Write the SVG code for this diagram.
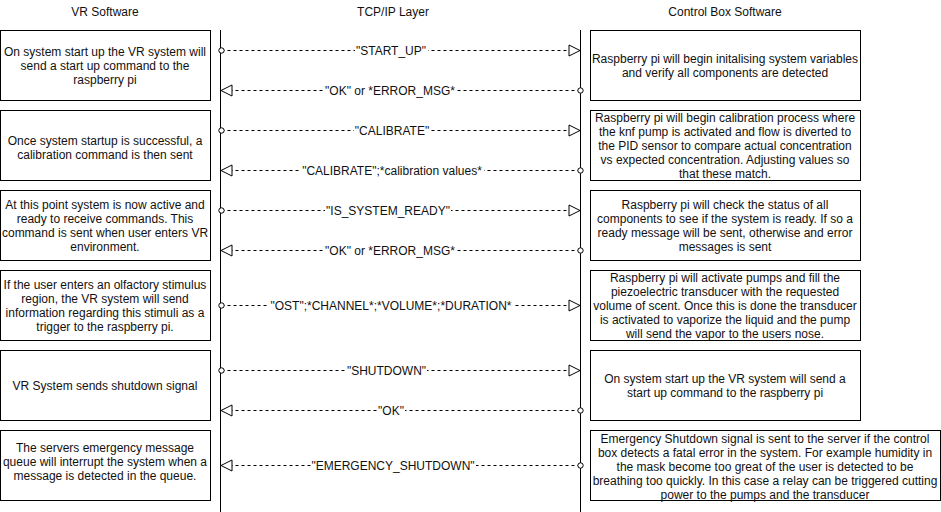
<svg xmlns="http://www.w3.org/2000/svg" width="941" height="512" viewBox="0 0 941 512">
<style>
text{font-family:"Liberation Sans",Arial,Helvetica,sans-serif;font-size:12px;fill:#111;text-anchor:middle}
.box{fill:#fff;stroke:#000;stroke-width:1}
.life{stroke:#000;stroke-width:1;fill:none}
.msg{stroke:#000;stroke-width:1;fill:none;stroke-dasharray:3 3}
.req{marker-start:url(#oval);marker-end:url(#tri)}
.lbg{fill:#fff}
</style>
<defs>
<marker id="oval" markerUnits="userSpaceOnUse" markerWidth="8" markerHeight="8" viewBox="0 0 8 8" refX="4" refY="4" orient="auto">
<circle cx="4" cy="4" r="2.7" fill="#fff" stroke="#000" stroke-width="1"/>
</marker>
<marker id="tri" markerUnits="userSpaceOnUse" markerWidth="14" markerHeight="14" viewBox="0 0 14 14" refX="12.5" refY="7" orient="auto">
<path d="M1.5,1.5 L12.5,7 L1.5,12.5 Z" fill="#fff" stroke="#000" stroke-width="1"/>
</marker>
</defs>
<rect width="941" height="512" fill="#fff"/>
<g id="headers">
<text x="105" y="16">VR Software</text>
<text x="393" y="16">TCP/IP Layer</text>
<text x="725" y="16">Control Box Software</text>
</g>
<g id="lifelines">
<line class="life" x1="220.5" y1="30" x2="220.5" y2="512"/>
<line class="life" x1="580.5" y1="30" x2="580.5" y2="512"/>
</g>
<g id="vr1"><rect class="box" x="0.5" y="30.5" width="210" height="70"/>
<text x="105" y="56"><tspan x="105">On system start up the VR system will</tspan><tspan x="105" dy="14">send a start up command to the</tspan><tspan x="105" dy="14">raspberry pi</tspan></text></g>
<g id="vr2"><rect class="box" x="0.5" y="110.5" width="210" height="70"/>
<text x="105" y="144.5"><tspan x="105">Once system startup is successful, a</tspan><tspan x="105" dy="14">calibration command is then sent</tspan></text></g>
<g id="vr3"><rect class="box" x="0.5" y="190.5" width="210" height="70"/>
<text x="105" y="209"><tspan x="105">At this point system is now active and</tspan><tspan x="105" dy="14">ready to receive commands. This</tspan><tspan x="105" dy="14">command is sent when user enters VR</tspan><tspan x="105" dy="14">environment.</tspan></text></g>
<g id="vr4"><rect class="box" x="0.5" y="270.5" width="210" height="70"/>
<text x="105" y="289"><tspan x="105">If the user enters an olfactory stimulus</tspan><tspan x="105" dy="14">region, the VR system will send</tspan><tspan x="105" dy="14">information regarding this stimuli as a</tspan><tspan x="105" dy="14">trigger to the raspberry pi.</tspan></text></g>
<g id="vr5"><rect class="box" x="0.5" y="350.5" width="210" height="70"/>
<text x="105" y="390">VR System sends shutdown signal</text></g>
<g id="vr6"><rect class="box" x="0.5" y="430.5" width="210" height="70"/>
<text x="105" y="452"><tspan x="105">The servers emergency message</tspan><tspan x="105" dy="14">queue will interrupt the system when a</tspan><tspan x="105" dy="14">message is detected in the queue.</tspan></text></g>
<g id="cb1"><rect class="box" x="590.5" y="30.5" width="270" height="70"/>
<text x="725" y="63"><tspan x="725">Raspberry pi will begin initalising system variables</tspan><tspan x="725" dy="14">and verify all components are detected</tspan></text></g>
<g id="cb2"><rect class="box" x="590.5" y="110.5" width="270" height="70"/>
<text x="725" y="122"><tspan x="725">Raspberry pi will begin calibration process where</tspan><tspan x="725" dy="14">the knf pump is activated and flow is diverted to</tspan><tspan x="725" dy="14">the PID sensor to compare actual concentration</tspan><tspan x="725" dy="14">vs expected concentration. Adjusting values so</tspan><tspan x="725" dy="14">that these match.</tspan></text></g>
<g id="cb3"><rect class="box" x="590.5" y="190.5" width="270" height="70"/>
<text x="725" y="209"><tspan x="725">Raspberry pi will check the status of all</tspan><tspan x="725" dy="14">components to see if the system is ready. If so a</tspan><tspan x="725" dy="14">ready message will be sent, otherwise and error</tspan><tspan x="725" dy="14">messages is sent</tspan></text></g>
<g id="cb4"><rect class="box" x="590.5" y="270.5" width="270" height="70"/>
<text x="725" y="282"><tspan x="725">Raspberry pi will activate pumps and fill the</tspan><tspan x="725" dy="14">piezoelectric transducer with the requested</tspan><tspan x="725" dy="14">volume of scent. Once this is done the transducer</tspan><tspan x="725" dy="14">is activated to vaporize the liquid and the pump</tspan><tspan x="725" dy="14">will send the vapor to the users nose.</tspan></text></g>
<g id="cb5"><rect class="box" x="590.5" y="350.5" width="270" height="70"/>
<text x="725" y="383"><tspan x="725">On system start up the VR system will send a</tspan><tspan x="725" dy="14">start up command to the raspberry pi</tspan></text></g>
<g id="cb6"><rect class="box" x="590.5" y="430.5" width="350" height="70"/>
<text x="765" y="443"><tspan x="765">Emergency Shutdown signal is sent to the server if the control</tspan><tspan x="765" dy="14">box detects a fatal error in the system. For example humidity in</tspan><tspan x="765" dy="14">the mask become too great of the user is detected to be</tspan><tspan x="765" dy="14">breathing too quickly. In this case a relay can be triggered cutting</tspan><tspan x="765" dy="14">power to the pumps and the transducer</tspan></text></g>
<g id="connectors">
<line class="msg req" x1="221.5" y1="50.5" x2="580" y2="50.5"/>
<rect class="lbg" x="355" y="43" width="73" height="15"/><text x="391" y="54.5">"START_UP"</text>
<line class="msg req" x1="580.5" y1="90.5" x2="221" y2="90.5"/>
<rect class="lbg" x="324" y="83" width="132" height="15"/><text x="390" y="94.5">"OK" or *ERROR_MSG*</text>
<line class="msg req" x1="221.5" y1="130.5" x2="580" y2="130.5"/>
<rect class="lbg" x="354" y="123" width="77" height="15"/><text x="392" y="134.5">"CALIBRATE"</text>
<line class="msg req" x1="580.5" y1="170.5" x2="221" y2="170.5"/>
<rect class="lbg" x="301" y="163" width="183" height="15"/><text x="392" y="174.5">"CALIBRATE";*calibration values*</text>
<line class="msg req" x1="221.5" y1="210.5" x2="580" y2="210.5"/>
<rect class="lbg" x="325" y="203" width="126" height="15"/><text x="388" y="214.5">"IS_SYSTEM_READY"</text>
<line class="msg req" x1="580.5" y1="250.5" x2="221" y2="250.5"/>
<rect class="lbg" x="324" y="243" width="132" height="15"/><text x="390" y="254.5">"OK" or *ERROR_MSG*</text>
<line class="msg req" x1="221.5" y1="305.5" x2="580" y2="305.5"/>
<rect class="lbg" x="269" y="298" width="244" height="15"/><text x="391" y="309.5">"OST";*CHANNEL*;*VOLUME*;*DURATION*</text>
<line class="msg req" x1="221.5" y1="370.5" x2="580" y2="370.5"/>
<rect class="lbg" x="346" y="363" width="81" height="15"/><text x="386.5" y="374.5">"SHUTDOWN"</text>
<line class="msg req" x1="580.5" y1="410.5" x2="221" y2="410.5"/>
<rect class="lbg" x="377" y="403" width="28" height="15"/><text x="391" y="414.5">"OK"</text>
<line class="msg req" x1="580.5" y1="465.5" x2="221" y2="465.5"/>
<rect class="lbg" x="311" y="458" width="165" height="15"/><text x="393" y="469.5">"EMERGENCY_SHUTDOWN"</text>
</g>
</svg>
